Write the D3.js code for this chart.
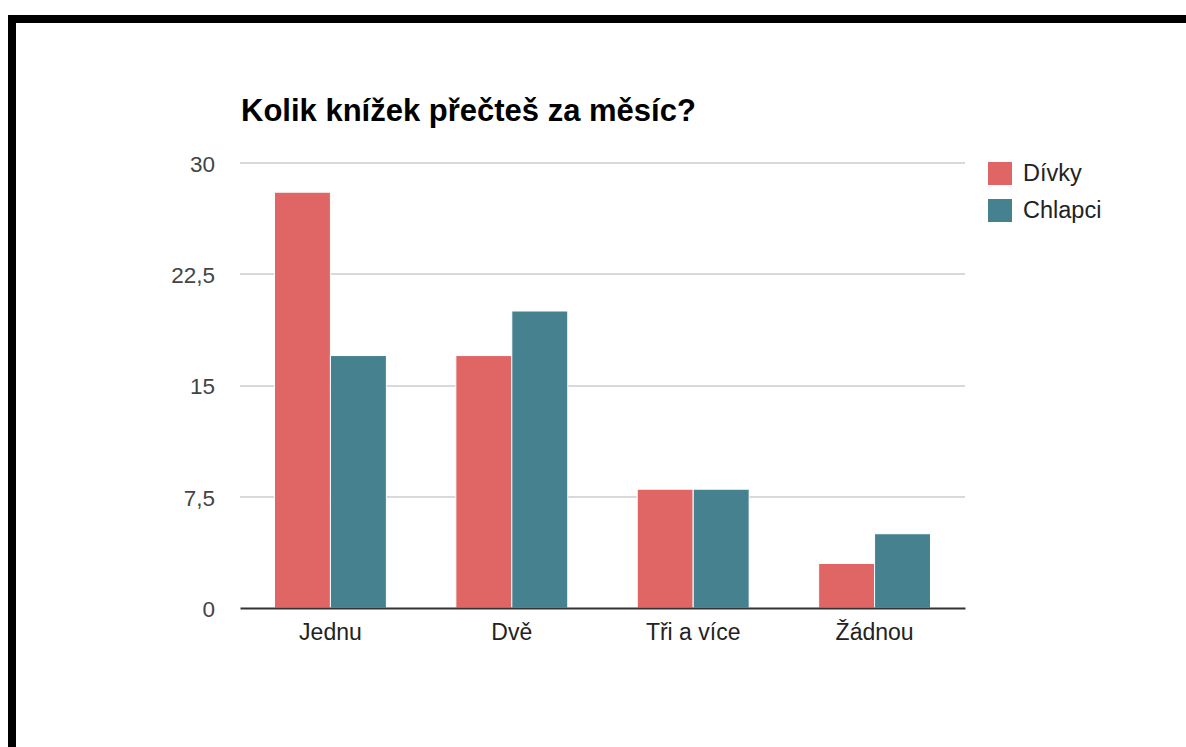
<!DOCTYPE html>
<html>
<head>
<meta charset="utf-8">
<script src="https://cdn.jsdelivr.net/npm/d3@7"></script>
<style>
  body { margin: 0; background: #fff; }
  svg { display: block; font-family: Arial, "Liberation Sans", sans-serif; }
</style>
</head>
<body>
<div id="chart"></div>
<script>
// data
var categories = ["Jednu", "Dvě", "Tři a více", "Žádnou"];
var seriesNames = ["Dívky", "Chlapci"];
var divky = [28, 17, 8, 3];
var chlapci = [17, 20, 8, 5];
var tickValues = [0, 7.5, 15, 22.5, 30];
var colors = ["#e06666", "#45818e"];

var svgWidth = 1186;
var svgHeight = 747;

var margin = { top: 162.5, left: 240, right: 221, bottom: 139 };
var width = svgWidth - margin.left - margin.right;
var height = svgHeight - margin.top - margin.bottom;

var svg = d3.select("#chart").append("svg")
  .attr("width", svgWidth)
  .attr("height", svgHeight);

// black frame round the page
svg.append("rect")
  .attr("x", 12)
  .attr("y", 19)
  .attr("width", 1300)
  .attr("height", 900)
  .attr("fill", "#fff")
  .attr("stroke", "#000")
  .attr("stroke-width", 8);

// title
svg.append("text")
  .attr("x", 241)
  .attr("y", 121)
  .attr("font-size", 31)
  .attr("font-weight", "bold")
  .attr("fill", "#000")
  .text("Kolik knížek přečteš za měsíc?");

var chartGroup = svg.append("g")
  .attr("transform", `translate(${margin.left}, ${margin.top})`);

var x0 = d3.scaleBand()
  .domain(categories)
  .range([0, width])
  .paddingInner(0.383)
  .paddingOuter(0.19);

var x1 = d3.scaleBand()
  .domain(seriesNames)
  .range([0, x0.bandwidth()]);

var y = d3.scaleLinear()
  .domain([0, 30])
  .range([height, 0]);

// gridlines
chartGroup.append("g")
  .selectAll("line")
  .data(tickValues.slice(1))
  .enter()
  .append("line")
  .attr("x1", 0)
  .attr("x2", width)
  .attr("y1", d => Math.round(y(d)) + 0.5)
  .attr("y2", d => Math.round(y(d)) + 0.5)
  .attr("stroke", "#cccccc")
  .attr("stroke-width", 1.5);

// y tick labels
var leftAxis = d3.axisLeft(y)
  .tickValues(tickValues)
  .tickSize(0)
  .tickPadding(25)
  .tickFormat(d => String(d).replace(".", ","));

var yAxis = chartGroup.append("g").call(leftAxis);
yAxis.select(".domain").remove();
yAxis.selectAll("text")
  .attr("font-size", 22.5)
  .attr("font-family", "Arial, 'Liberation Sans', sans-serif")
  .attr("fill", "#444")
  .attr("dy", "0.38em");

// bars
var rows = categories.map((c, i) => ({ cat: c, values: [divky[i], chlapci[i]] }));

var groups = chartGroup.selectAll(".group")
  .data(rows)
  .enter()
  .append("g")
  .attr("transform", d => `translate(${x0(d.cat)}, 0)`);

groups.selectAll("rect")
  .data(d => d.values.map((v, j) => ({ name: seriesNames[j], value: v, color: colors[j] })))
  .enter()
  .append("rect")
  .attr("x", d => x1(d.name))
  .attr("y", d => y(d.value))
  .attr("width", x1.bandwidth())
  .attr("height", d => height - y(d.value))
  .attr("fill", d => d.color)
  .attr("stroke", "#fff")
  .attr("stroke-width", 1);

// baseline + category labels
var bottomAxis = d3.axisBottom(x0)
  .tickSize(0)
  .tickPadding(16);

var xAxis = chartGroup.append("g")
  .attr("transform", `translate(0, ${height})`)
  .call(bottomAxis);
xAxis.select(".domain")
  .attr("stroke", "#333")
  .attr("stroke-width", 2);
xAxis.selectAll("text")
  .attr("font-size", 23)
  .attr("font-family", "Arial, 'Liberation Sans', sans-serif")
  .attr("fill", "#222");

// legend
var legend = svg.append("g")
  .attr("transform", "translate(988, 162)");

var items = legend.selectAll("g")
  .data(seriesNames)
  .enter()
  .append("g")
  .attr("transform", (d, i) => `translate(0, ${i * 37})`);

items.append("rect")
  .attr("width", 24)
  .attr("height", 23)
  .attr("fill", (d, i) => colors[i]);

items.append("text")
  .attr("x", 35)
  .attr("y", 19)
  .attr("font-size", 23.5)
  .attr("fill", "#222")
  .text(d => d);
</script>
</body>
</html>
